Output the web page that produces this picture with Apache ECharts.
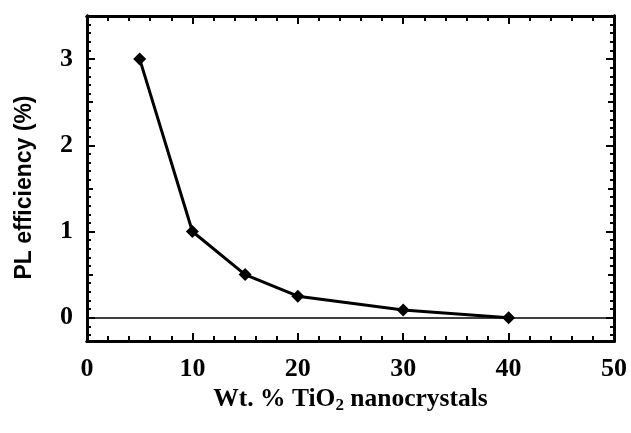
<!DOCTYPE html>
<html>
<head>
<meta charset="utf-8">
<script src="https://cdn.jsdelivr.net/npm/echarts@6/dist/echarts.min.js"></script>
<style>
html,body{margin:0;padding:0;background:#fff;}
#chart{width:631px;height:433px;}
</style>
</head>
<body>
<div id="chart"></div>
<script>
// Data
const wtPercent = [5, 10, 15, 20, 30, 40];
const plEfficiency = [3.0, 1.0, 0.5, 0.25, 0.09, 0.0];

// Tick labels / tick values
const xMajorTicks = [0, 10, 20, 30, 40, 50];
const xMinorTicks = [2, 4, 6, 8, 12, 14, 16, 18, 22, 24, 26, 28, 32, 34, 36, 38, 42, 44, 46, 48];
const yMajorTicks = [0, 1, 2, 3];
const yMediumTicks = [0.5, 1.5, 2.5];
const yMinorTicks = [-0.2, -0.1, 0.1, 0.2, 0.3, 0.4, 0.6, 0.7, 0.8, 0.9,
  1.1, 1.2, 1.3, 1.4, 1.6, 1.7, 1.8, 1.9,
  2.1, 2.2, 2.3, 2.4, 2.6, 2.7, 2.8, 2.9,
  3.1, 3.2, 3.3, 3.4];

const X_MIN = 0, X_MAX = 50, Y_MIN = -0.27, Y_MAX = 3.5;
const serif = '"Liberation Serif", "Times New Roman", serif';
const sans = '"Liberation Sans", Arial, sans-serif';

function xAx(pos, ticks, len, opts) {
  return Object.assign({
    type: 'value', position: pos, min: X_MIN, max: X_MAX,
    splitLine: { show: false },
    axisLine: { show: true, onZero: false, lineStyle: { color: '#000', width: 3 } },
    axisTick: { show: true, inside: true, length: len, customValues: ticks, lineStyle: { color: '#000', width: 2 } },
    axisLabel: { show: false }
  }, opts || {});
}
function yAx(pos, ticks, len, opts) {
  return Object.assign({
    type: 'value', position: pos, min: Y_MIN, max: Y_MAX,
    splitLine: { show: false },
    axisLine: { show: true, onZero: false, lineStyle: { color: '#000', width: 3 } },
    axisTick: { show: true, inside: true, length: len, customValues: ticks, lineStyle: { color: '#000', width: 2 } },
    axisLabel: { show: false }
  }, opts || {});
}

const chart = echarts.init(document.getElementById('chart'), null, { renderer: 'canvas' });
chart.setOption({
  animation: false,
  backgroundColor: '#fff',
  grid: { left: 87, right: 17, top: 16, bottom: 92, containLabel: false },
  xAxis: [
    xAx('bottom', xMajorTicks, 8, {
      axisLabel: {
        show: true, customValues: xMajorTicks, margin: 15,
        color: '#000', fontFamily: serif, fontWeight: 'bold', fontSize: 26
      },
      name: '{a|Wt. % TiO}{s|2}{a| nanocrystals}',
      nameLocation: 'middle', nameGap: 40,
      nameTextStyle: {
        rich: {
          a: { color: '#000', fontFamily: serif, fontWeight: 'bold', fontSize: 25.5 },
          s: { color: '#000', fontFamily: serif, fontWeight: 'bold', fontSize: 17, padding: [12, 0, 0, 0] }
        }
      }
    }),
    xAx('bottom', xMinorTicks, 5),
    xAx('top', xMajorTicks, 8),
    xAx('top', xMinorTicks, 5)
  ],
  yAxis: [
    yAx('left', yMajorTicks, 8, {
      axisLabel: {
        show: true, customValues: yMajorTicks, margin: 14,
        color: '#000', fontFamily: serif, fontWeight: 'bold', fontSize: 26
      },
      name: 'PL efficiency (%)',
      nameLocation: 'middle', nameGap: 51, nameRotate: 90,
      nameTextStyle: { color: '#000', fontFamily: sans, fontWeight: 'bold', fontSize: 23, padding: [0, 18, 0, 0] }
    }),
    yAx('left', yMediumTicks, 6),
    yAx('left', yMinorTicks, 4),
    yAx('right', yMajorTicks, 8),
    yAx('right', yMediumTicks, 6),
    yAx('right', yMinorTicks, 4)
  ],
  series: [{
    type: 'line',
    xAxisIndex: 0, yAxisIndex: 0,
    data: wtPercent.map((x, i) => [x, plEfficiency[i]]),
    symbol: 'diamond', symbolSize: 13,
    itemStyle: { color: '#000' },
    lineStyle: { color: '#000', width: 3 },
    markLine: {
      silent: true, symbol: 'none', label: { show: false },
      lineStyle: { color: '#000', width: 1.5, type: 'solid' },
      data: [{ yAxis: 0 }]
    },
    z: 3
  }]
});
</script>
</body>
</html>
